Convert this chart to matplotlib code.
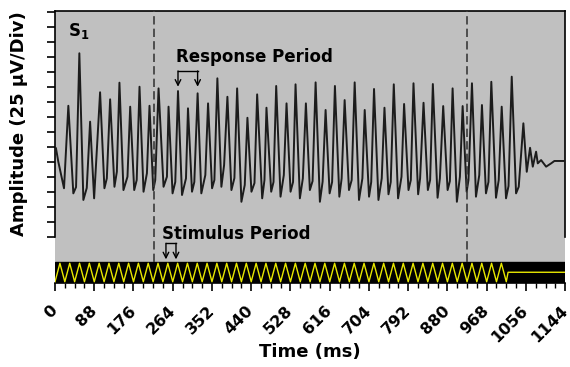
import matplotlib.pyplot as plt
from matplotlib.ticker import MultipleLocator

# response trace: time (ms) and amplitude (25 uV divisions), vertices
resp_t = [2.2, 7.4, 20.2, 29.9, 41.1, 47.2, 54.6, 63.6, 71.2, 78.7, 87.7,
          101.1, 110.8, 116.2, 123.6, 133.3, 138.7, 144.5, 153.5, 162.5,
          168.6, 177.6, 183.2, 189.5, 198.5, 206.1, 211.9, 220.3, 224.8,
          232.2, 243.4, 251.0, 254.6, 263.6, 269.7, 275.8, 284.8, 293.7,
          298.2, 307.2, 312.4, 319.8, 328.1, 337.1, 343.2, 352.2, 357.4,
          364.1, 373.1, 379.2, 386.6, 395.6, 402.3, 408.4, 418.0, 425.5,
          431.5, 440.5, 447.3, 453.3, 464.6, 469.7, 474.2, 484.8, 490.0,
          496.0, 505.7, 513.1, 519.2, 528.2, 533.8, 539.4, 549.1, 555.8,
          562.6, 571.5, 577.6, 584.4, 594.0, 600.1, 606.8, 615.8, 621.4,
          627.7, 637.6, 642.8, 649.5, 659.2, 665.3, 672.0, 681.7, 689.3,
          694.5, 704.2, 709.1, 715.4, 725.3, 732.7, 738.8, 747.8, 752.9,
          759.7, 769.3, 777.0, 782.8, 792.7, 797.9, 803.9, 814.3, 818.7,
          826.4, 836.1, 841.2, 847.3, 857.9, 863.1, 870.5, 880.4, 885.5,
          891.6, 901.2, 908.0, 914.1, 923.1, 927.2, 935.0, 944.0, 951.4,
          957.4, 966.4, 972.0, 978.4, 988.9, 995.0, 1001.7, 1011.4, 1017.0,
          1024.2, 1033.9, 1039.9, 1050.3, 1057.9, 1065.3, 1071.4, 1078.8,
          1082.6, 1090.0, 1101.3, 1112.5, 1119.9, 1144]
resp_amp = [5.89, 5.0, 3.23, 8.73, 2.89, 3.31, 12.23, 2.45, 3.25, 7.67, 2.56,
            9.63, 3.23, 3.89, 9.16, 3.33, 4.33, 10.27, 3.11, 4.0,
            8.67, 3.11, 3.78, 10.0, 3.0, 4.23, 8.73, 3.11, 3.78,
            9.89, 3.33, 4.0, 8.67, 2.89, 3.65, 9.71, 2.78, 3.89,
            8.56, 3.0, 3.65, 9.56, 2.89, 4.11, 8.89, 3.23, 3.78,
            10.56, 3.33, 4.78, 9.33, 3.11, 3.91, 9.89, 2.33, 3.45,
            7.93, 3.0, 3.58, 9.49, 2.56, 3.78, 8.6, 3.0, 3.65,
            10.05, 2.67, 4.11, 8.89, 3.0, 3.65, 10.16, 2.56, 3.89,
            8.89, 3.11, 3.71, 10.29, 2.33, 3.67, 8.45, 2.89, 3.65,
            10.05, 2.67, 3.89, 9.11, 3.11, 3.78, 10.29, 2.45, 3.89,
            8.45, 2.67, 3.65, 9.85, 2.45, 3.89, 8.6, 2.83, 3.65,
            10.16, 2.56, 4.0, 8.85, 3.11, 3.78, 10.23, 2.83, 3.89,
            8.93, 3.11, 3.78, 10.18, 2.6, 3.89, 8.71, 3.11, 3.71,
            9.89, 2.33, 4.0, 8.71, 3.0, 3.78, 10.23, 2.67, 4.11,
            8.78, 2.89, 3.65, 10.33, 2.6, 3.78, 8.67, 2.56, 3.38,
            10.67, 2.89, 3.33, 7.56, 4.33, 5.93, 4.67, 5.67,
            4.89, 5.11, 4.67, 4.89, 5.05, 5.05]

# stimulus triangle wave (ms)
stim_troughs = [0, 22, 44, 66, 88, 110, 132, 154, 176, 198, 220, 242, 264, 286,
                308, 330, 352, 374, 396, 418, 440, 462, 484, 506, 528, 550, 572,
                594, 616, 638, 660, 682, 704, 726, 748, 770, 792, 814, 836, 858,
                880, 902, 924, 946, 968, 990, 1012]
stim_peaks = [11, 33, 55, 77, 99, 121, 143, 165, 187, 209, 231, 253, 275, 297,
              319, 341, 363, 385, 407, 429, 451, 473, 495, 517, 539, 561, 583,
              605, 627, 649, 671, 693, 715, 737, 759, 781, 803, 825, 847, 869,
              891, 913, 935, 957, 979, 1001]
stim_high = -1.77
stim_low = -3.0
stim_rest = -2.37
stim_off = 1016

x_ticks = [0, 88, 176, 264, 352, 440, 528, 616, 704, 792, 880, 968, 1056, 1144]
period_lines = [221, 925]

y_bot, y_top = -3.107, 15.08
bar_top = -1.67

stim = sorted([(t, stim_low) for t in stim_troughs] + [(t, stim_high) for t in stim_peaks])
stim += [(stim_off, stim_rest), (1144, stim_rest)]
stim_x = [p[0] for p in stim]
stim_y = [p[1] for p in stim]

fig = plt.figure(figsize=(5.7, 3.67), dpi=100)
ax = fig.add_axes([0.0965, 0.228, 0.895, 0.7433])
ax.set_facecolor('#c0c0c0')
ax.set_xlim(0, 1144)
ax.set_ylim(y_bot, y_top)

# black stimulus strip
ax.axhspan(y_bot, bar_top, color='black', zorder=1)
ax.plot(stim_x, stim_y, color='#e8e800', lw=1.0, zorder=3)

# response trace
ax.plot(resp_t, resp_amp, color='#1c1c1c', lw=1.4, zorder=3)

# dashed lines marking the stimulus window
ax.vlines(period_lines, bar_top, y_top, colors='#3a3a3a',
          linestyles=[(0, (5, 2.5))], lw=1.2, zorder=4)

# texts and period brackets
ax.text(29.9, 13.38, r'S$_\mathbf{1}$', fontsize=12, fontweight='bold')
ax.text(272, 11.67, 'Response Period', fontsize=12, fontweight='bold')
ax.text(241, -0.15, 'Stimulus Period', fontsize=12, fontweight='bold')

for xa, xb, top, tip in [(275.8, 319.8, 11.05, 10.0), (248.8, 271.3, -0.44, -1.51)]:
    ax.plot([xa, xb], [top, top], color='black', lw=1.0, zorder=5)
    for xx in (xa, xb):
        ax.annotate('', xy=(xx, tip), xytext=(xx, top),
                    arrowprops=dict(arrowstyle='->', lw=1.0, color='black',
                                    shrinkA=0, shrinkB=0), zorder=5)

# axes
ax.set_xticks(x_ticks)
ax.set_xticklabels([str(v) for v in x_ticks], rotation=45, ha='right', va='center',
                   rotation_mode='anchor', fontsize=11.5, fontweight='bold')
ax.xaxis.set_minor_locator(MultipleLocator(22))
ax.tick_params(axis='x', which='major', length=6, width=1.2, pad=12)
ax.tick_params(axis='x', which='minor', length=3.5, width=1.0)
ax.set_yticks(range(16))
ax.set_yticklabels([])
ax.tick_params(axis='y', length=6, width=1.2)

for s in ['left', 'right', 'top', 'bottom']:
    ax.spines[s].set_linewidth(1.2)
ax.spines['left'].set_bounds(0, y_top)
ax.spines['right'].set_bounds(0, y_top)

fig.text(0.034, 0.662, 'Amplitude (25 µV/Div)', rotation=90, ha='center',
         va='center', fontsize=13, fontweight='bold')
fig.text(0.544, 0.041, 'Time (ms)', ha='center', va='center',
         fontsize=13, fontweight='bold')

fig.savefig('out.png', dpi=100)
